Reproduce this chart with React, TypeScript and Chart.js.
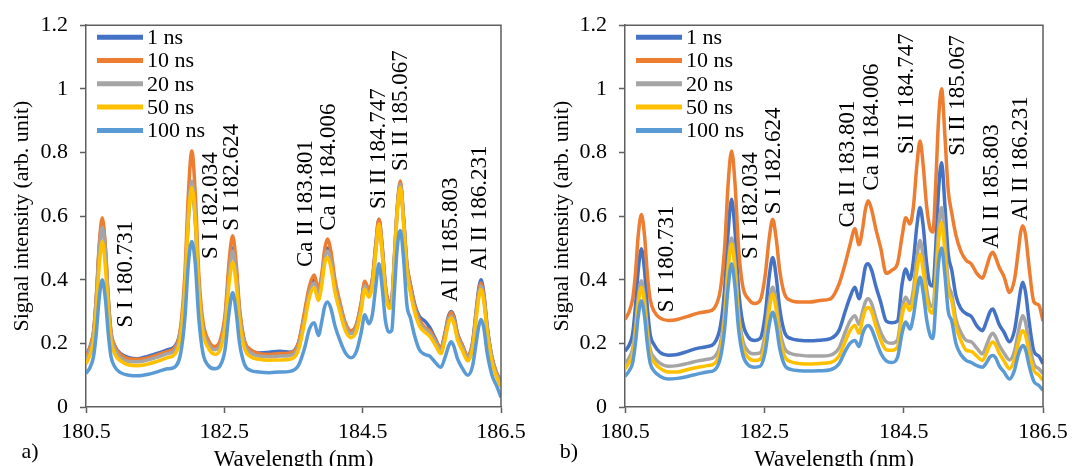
import React, { useEffect, useRef } from 'react';
import { Chart, registerables } from 'chart.js';

Chart.register(...registerables);

const FONT = "'Liberation Serif', 'Times New Roman', serif";

// Wavelength grid (nm), shared by both panels
const WAVELENGTH = [
  180.50, 180.56, 180.61, 180.65, 180.69, 180.735, 180.78, 180.82, 180.86, 180.92,
  181.00, 181.12, 181.25, 181.40, 181.55, 181.68, 181.78, 181.87, 181.93, 181.98,
  182.03, 182.08, 182.13, 182.19, 182.27, 182.36, 182.44, 182.51, 182.57, 182.62,
  182.67, 182.72, 182.79, 182.88, 183.00, 183.15, 183.30, 183.45, 183.57, 183.66,
  183.73, 183.80, 183.86, 183.91, 183.95, 183.99, 184.04, 184.10, 184.17, 184.25,
  184.33, 184.41, 184.48, 184.53, 184.59, 184.64, 184.69, 184.735, 184.78, 184.83,
  184.88, 184.92, 184.96, 185.00, 185.045, 185.09, 185.14, 185.19, 185.25, 185.32,
  185.40, 185.47, 185.55, 185.63, 185.69, 185.74, 185.78, 185.82, 185.87, 185.94,
  186.02, 186.09, 186.14, 186.18, 186.21, 186.25, 186.30, 186.37, 186.44, 186.50,
];

const SERIES_NAMES = ['1 ns', '10 ns', '20 ns', '50 ns', '100 ns'];
const SERIES_COLORS = ['#4472C4', '#ED7D31', '#A5A5A5', '#FFC000', '#5B9BD5'];

// Panel a)
const A_1NS = [
  0.16, 0.19, 0.235, 0.345, 0.495, 0.58, 0.495, 0.345, 0.235, 0.19,
  0.168, 0.155, 0.152, 0.16, 0.17, 0.18, 0.19, 0.245, 0.38, 0.59,
  0.70, 0.585, 0.38, 0.25, 0.2, 0.185, 0.2, 0.275, 0.43, 0.50,
  0.43, 0.30, 0.205, 0.178, 0.17, 0.172, 0.175, 0.172, 0.2, 0.29,
  0.37, 0.40, 0.36, 0.41, 0.475, 0.50, 0.47, 0.385, 0.32, 0.26,
  0.238, 0.258, 0.325, 0.39, 0.365, 0.40, 0.51, 0.59, 0.51, 0.375,
  0.328, 0.335, 0.47, 0.62, 0.70, 0.595, 0.445, 0.385, 0.325, 0.285,
  0.27, 0.25, 0.215, 0.185, 0.232, 0.285, 0.30, 0.285, 0.232, 0.195,
  0.16, 0.205, 0.30, 0.375, 0.40, 0.36, 0.255, 0.155, 0.105, 0.082,
];
const A_10NS = [
  0.155, 0.19, 0.24, 0.35, 0.505, 0.595, 0.505, 0.35, 0.24, 0.19,
  0.165, 0.152, 0.15, 0.155, 0.165, 0.175, 0.185, 0.255, 0.42, 0.67,
  0.805, 0.67, 0.42, 0.27, 0.21, 0.19, 0.21, 0.29, 0.46, 0.538,
  0.455, 0.31, 0.21, 0.18, 0.168, 0.165, 0.168, 0.17, 0.2, 0.30,
  0.38, 0.415, 0.37, 0.42, 0.495, 0.528, 0.49, 0.40, 0.33, 0.265,
  0.24, 0.26, 0.33, 0.395, 0.37, 0.40, 0.51, 0.59, 0.51, 0.38,
  0.33, 0.34, 0.48, 0.63, 0.71, 0.60, 0.45, 0.385, 0.32, 0.275,
  0.25, 0.24, 0.21, 0.185, 0.23, 0.28, 0.298, 0.28, 0.23, 0.195,
  0.16, 0.2, 0.295, 0.366, 0.39, 0.354, 0.25, 0.155, 0.105, 0.08,
];
const A_20NS = [
  0.148, 0.18, 0.228, 0.335, 0.485, 0.565, 0.485, 0.335, 0.228, 0.18,
  0.155, 0.143, 0.142, 0.148, 0.158, 0.168, 0.178, 0.24, 0.385, 0.61,
  0.71, 0.61, 0.385, 0.25, 0.198, 0.18, 0.195, 0.27, 0.42, 0.49,
  0.42, 0.29, 0.198, 0.17, 0.16, 0.158, 0.16, 0.162, 0.19, 0.28,
  0.36, 0.39, 0.355, 0.40, 0.465, 0.49, 0.46, 0.375, 0.315, 0.255,
  0.23, 0.25, 0.315, 0.38, 0.355, 0.385, 0.49, 0.57, 0.49, 0.365,
  0.318, 0.33, 0.47, 0.62, 0.70, 0.59, 0.435, 0.37, 0.31, 0.265,
  0.245, 0.232, 0.205, 0.178, 0.22, 0.27, 0.285, 0.27, 0.222, 0.188,
  0.155, 0.195, 0.285, 0.355, 0.38, 0.345, 0.245, 0.15, 0.1, 0.076,
];
const A_50NS = [
  0.135, 0.165, 0.21, 0.31, 0.44, 0.52, 0.44, 0.31, 0.21, 0.165,
  0.145, 0.132, 0.13, 0.135, 0.145, 0.155, 0.165, 0.225, 0.37, 0.59,
  0.69, 0.59, 0.37, 0.235, 0.185, 0.166, 0.18, 0.25, 0.39, 0.455,
  0.39, 0.27, 0.185, 0.158, 0.15, 0.147, 0.148, 0.15, 0.178, 0.265,
  0.345, 0.375, 0.335, 0.385, 0.45, 0.47, 0.44, 0.36, 0.3, 0.24,
  0.218, 0.238, 0.305, 0.37, 0.345, 0.38, 0.49, 0.575, 0.49, 0.36,
  0.31, 0.32, 0.46, 0.61, 0.69, 0.58, 0.425, 0.36, 0.3, 0.255,
  0.235, 0.222, 0.195, 0.168, 0.21, 0.262, 0.28, 0.262, 0.212, 0.178,
  0.145, 0.185, 0.275, 0.345, 0.37, 0.335, 0.235, 0.14, 0.092, 0.063,
];
const A_100NS = [
  0.105, 0.125, 0.16, 0.235, 0.34, 0.40, 0.34, 0.235, 0.16, 0.125,
  0.108, 0.1, 0.098, 0.103, 0.112, 0.12, 0.125, 0.17, 0.28, 0.45,
  0.52, 0.45, 0.28, 0.17, 0.13, 0.12, 0.13, 0.18, 0.3, 0.36,
  0.3, 0.2, 0.135, 0.115, 0.11, 0.108, 0.11, 0.112, 0.13, 0.185,
  0.245, 0.265, 0.225, 0.27, 0.315, 0.33, 0.31, 0.255, 0.21, 0.17,
  0.155, 0.175, 0.235, 0.29, 0.262, 0.29, 0.38, 0.45, 0.38, 0.27,
  0.235, 0.24, 0.37, 0.5, 0.555, 0.47, 0.32, 0.28, 0.225, 0.18,
  0.165, 0.16, 0.14, 0.125, 0.155, 0.19, 0.205, 0.19, 0.152, 0.122,
  0.1, 0.13, 0.2, 0.255, 0.275, 0.25, 0.17, 0.1, 0.065, 0.03,
];

// Panel b)
const B_1NS = [
  0.175, 0.195, 0.23, 0.315, 0.43, 0.497, 0.43, 0.315, 0.23, 0.195,
  0.172, 0.163, 0.165, 0.175, 0.185, 0.19, 0.2, 0.255, 0.37, 0.55,
  0.653, 0.55, 0.37, 0.265, 0.22, 0.209, 0.215, 0.285, 0.41, 0.47,
  0.41, 0.31, 0.235, 0.215, 0.21, 0.208, 0.21, 0.215, 0.24, 0.30,
  0.345, 0.376, 0.34, 0.39, 0.44, 0.45, 0.43, 0.38, 0.33, 0.27,
  0.265, 0.27, 0.39, 0.434, 0.40, 0.46, 0.57, 0.627, 0.57, 0.45,
  0.385, 0.38, 0.5, 0.68, 0.768, 0.64, 0.48, 0.43, 0.35, 0.31,
  0.293, 0.285, 0.255, 0.24, 0.27, 0.30, 0.308, 0.29, 0.26, 0.235,
  0.205, 0.24, 0.31, 0.37, 0.392, 0.36, 0.27, 0.175, 0.16, 0.136,
];
const B_10NS = [
  0.275, 0.3, 0.34, 0.42, 0.54, 0.605, 0.54, 0.42, 0.34, 0.3,
  0.28, 0.272, 0.275, 0.285, 0.295, 0.30, 0.31, 0.37, 0.50, 0.70,
  0.805, 0.70, 0.50, 0.38, 0.34, 0.325, 0.335, 0.41, 0.53, 0.59,
  0.53, 0.43, 0.355, 0.335, 0.33, 0.33, 0.335, 0.34, 0.385, 0.45,
  0.51, 0.56, 0.51, 0.56, 0.62, 0.648, 0.62, 0.56, 0.50, 0.42,
  0.43, 0.45, 0.54, 0.595, 0.575, 0.63, 0.76, 0.836, 0.76, 0.63,
  0.56, 0.55, 0.70, 0.90, 1.0, 0.86, 0.68, 0.61, 0.54, 0.49,
  0.46, 0.45, 0.42, 0.405, 0.44, 0.475, 0.486, 0.47, 0.44, 0.41,
  0.36, 0.40, 0.48, 0.55, 0.57, 0.54, 0.44, 0.33, 0.32, 0.27,
];
const B_20NS = [
  0.138, 0.155, 0.183, 0.25, 0.344, 0.397, 0.344, 0.25, 0.183, 0.155,
  0.138, 0.128, 0.13, 0.137, 0.145, 0.15, 0.157, 0.2, 0.3, 0.45,
  0.531, 0.45, 0.3, 0.21, 0.175, 0.167, 0.17, 0.228, 0.33, 0.376,
  0.33, 0.245, 0.185, 0.168, 0.163, 0.16, 0.16, 0.163, 0.185, 0.235,
  0.27, 0.287, 0.26, 0.3, 0.33, 0.34, 0.325, 0.28, 0.235, 0.205,
  0.2, 0.21, 0.31, 0.345, 0.324, 0.37, 0.47, 0.523, 0.47, 0.37,
  0.32, 0.315, 0.42, 0.56, 0.627, 0.53, 0.39, 0.355, 0.275, 0.235,
  0.209, 0.205, 0.185, 0.167, 0.195, 0.222, 0.232, 0.22, 0.195, 0.17,
  0.148, 0.175, 0.23, 0.27, 0.287, 0.265, 0.2, 0.135, 0.12, 0.105,
];
const B_50NS = [
  0.12, 0.14, 0.167, 0.232, 0.323, 0.376, 0.323, 0.232, 0.167, 0.14,
  0.122, 0.11, 0.11, 0.118, 0.125, 0.13, 0.136, 0.18, 0.28, 0.43,
  0.512, 0.43, 0.28, 0.19, 0.155, 0.146, 0.15, 0.2, 0.305, 0.355,
  0.305, 0.22, 0.16, 0.142, 0.137, 0.135, 0.137, 0.14, 0.16, 0.205,
  0.24, 0.256, 0.232, 0.275, 0.305, 0.313, 0.3, 0.255, 0.21, 0.18,
  0.178, 0.188, 0.29, 0.324, 0.303, 0.34, 0.43, 0.48, 0.43, 0.34,
  0.3, 0.295, 0.39, 0.52, 0.58, 0.49, 0.365, 0.334, 0.255, 0.21,
  0.178, 0.175, 0.16, 0.146, 0.17, 0.195, 0.204, 0.195, 0.17, 0.145,
  0.12, 0.15, 0.195, 0.23, 0.24, 0.225, 0.17, 0.115, 0.1, 0.084,
];
const B_100NS = [
  0.096, 0.114, 0.139, 0.2, 0.285, 0.334, 0.285, 0.2, 0.139, 0.112,
  0.097, 0.088, 0.09, 0.096, 0.104, 0.11, 0.115, 0.155, 0.245, 0.375,
  0.45, 0.375, 0.245, 0.165, 0.132, 0.125, 0.128, 0.17, 0.258, 0.298,
  0.258, 0.185, 0.132, 0.118, 0.114, 0.113, 0.114, 0.117, 0.135, 0.175,
  0.2, 0.209, 0.19, 0.23, 0.25, 0.256, 0.245, 0.21, 0.17, 0.145,
  0.14, 0.155, 0.235, 0.267, 0.245, 0.285, 0.36, 0.408, 0.36, 0.275,
  0.225, 0.215, 0.32, 0.45, 0.5, 0.42, 0.3, 0.27, 0.2, 0.165,
  0.146, 0.14, 0.13, 0.125, 0.14, 0.158, 0.162, 0.155, 0.13, 0.11,
  0.088, 0.115, 0.16, 0.185, 0.193, 0.18, 0.13, 0.08, 0.068, 0.052,
];

const X_TICKS = [180.5, 182.5, 184.5, 186.5];
const Y_TICKS = [0, 0.2, 0.4, 0.6, 0.8, 1, 1.2];

// Emission line annotations: text, wavelength anchor, intensity anchor (text start)
const LINE_LABELS = [
  'S I 180.731', 'S I 182.034', 'S I 182.624', 'Ca II 183.801', 'Ca II 184.006',
  'Si II 184.747', 'Si II 185.067', 'Al II 185.803', 'Al II 186.231',
];
const A_LABEL_X = [181.08, 182.31, 182.61, 183.68, 184.01, 184.735, 185.06, 185.78, 186.2];
const A_LABEL_Y = [0.25, 0.465, 0.554, 0.44, 0.554, 0.622, 0.742, 0.33, 0.43];
const B_LABEL_X = [181.107, 182.306, 182.64, 183.7, 184.04, 184.54, 185.28, 185.77, 186.19];
const B_LABEL_Y = [0.298, 0.465, 0.606, 0.564, 0.68, 0.795, 0.79, 0.497, 0.585];

const AXIS_COLOR = '#5f5f5f';
const CANVAS_H = 474;

function buildChart(
  canvas: HTMLCanvasElement,
  series: number[][],
  labelX: number[],
  labelY: number[],
  letter: string,
  yWidth: number,
  padRight: number,
) {
  const datasets = series.map((vals, i) => ({
    label: SERIES_NAMES[i],
    data: vals.map((v, j) => ({ x: WAVELENGTH[j], y: v })),
    borderColor: SERIES_COLORS[i],
    backgroundColor: SERIES_COLORS[i],
    borderWidth: 3.5,
    pointRadius: 0,
    cubicInterpolationMode: 'monotone' as const,
    order: 10 - i,
  }));

  const decor = {
    id: 'decor',
    afterDraw(chart: any) {
      const { ctx, chartArea, scales } = chart;
      ctx.save();
      // top and right frame
      ctx.strokeStyle = AXIS_COLOR;
      ctx.lineWidth = 1.5;
      ctx.beginPath();
      ctx.moveTo(chartArea.left, chartArea.top);
      ctx.lineTo(chartArea.right, chartArea.top);
      ctx.lineTo(chartArea.right, chartArea.bottom);
      ctx.stroke();

      // legend
      ctx.font = `22px ${FONT}`;
      ctx.textBaseline = 'middle';
      ctx.textAlign = 'left';
      SERIES_NAMES.forEach((name, i) => {
        const y = chartArea.top + 12 + i * 23.3;
        const x0 = chartArea.left + 11;
        ctx.strokeStyle = SERIES_COLORS[i];
        ctx.lineWidth = 5;
        ctx.beginPath();
        ctx.moveTo(x0, y);
        ctx.lineTo(x0 + 46, y);
        ctx.stroke();
        ctx.fillStyle = '#000';
        ctx.fillText(name, x0 + 50, y + 1);
      });

      // line annotations
      ctx.font = `23px ${FONT}`;
      ctx.fillStyle = '#000';
      LINE_LABELS.forEach((t, i) => {
        const px = scales.x.getPixelForValue(labelX[i]);
        const py = scales.y.getPixelForValue(labelY[i]);
        ctx.save();
        ctx.translate(px, py);
        ctx.rotate(-Math.PI / 2);
        ctx.textAlign = 'left';
        ctx.textBaseline = 'middle';
        ctx.fillText(t, 0, 0);
        ctx.restore();
      });

      // panel letter
      ctx.font = `22px ${FONT}`;
      ctx.textAlign = 'center';
      ctx.textBaseline = 'middle';
      ctx.fillText(letter, chartArea.left - 56, 452);
      ctx.restore();
    },
  };

  return new Chart(canvas, {
    type: 'line',
    data: { datasets },
    options: {
      responsive: false,
      animation: false,
      devicePixelRatio: 1,
      layout: { padding: { left: 0, right: padRight, top: 23, bottom: 0 } },
      plugins: { legend: { display: false }, tooltip: { enabled: false } },
      scales: {
        x: {
          type: 'linear',
          min: 180.5,
          max: 186.5,
          afterBuildTicks: (scale: any) => {
            scale.ticks = X_TICKS.map((v) => ({ value: v }));
          },
          afterFit: (scale: any) => {
            scale.height = CANVAS_H - 407;
          },
          grid: {
            drawOnChartArea: false,
            drawTicks: true,
            tickLength: 6,
            tickColor: AXIS_COLOR,
            tickWidth: 1.5,
          },
          border: { display: true, color: AXIS_COLOR, width: 1.5 },
          ticks: {
            color: '#000',
            font: { family: FONT, size: 22 },
            padding: 6,
            maxRotation: 0,
            autoSkip: false,
            callback: (v: any) => Number(v).toFixed(1),
          },
          title: {
            display: true,
            text: 'Wavelength (nm)',
            color: '#000',
            font: { family: FONT, size: 23 },
            padding: { top: 0, bottom: 0 },
          },
        },
        y: {
          type: 'linear',
          min: 0,
          max: 1.2,
          afterBuildTicks: (scale: any) => {
            scale.ticks = Y_TICKS.map((v) => ({ value: v }));
          },
          afterFit: (scale: any) => {
            scale.width = yWidth;
          },
          grid: {
            drawOnChartArea: false,
            drawTicks: true,
            tickLength: 6,
            tickColor: AXIS_COLOR,
            tickWidth: 1.5,
          },
          border: { display: true, color: AXIS_COLOR, width: 1.5 },
          ticks: {
            color: '#000',
            font: { family: FONT, size: 22 },
            padding: 12,
            autoSkip: false,
            callback: (v: any) => String(Number(Number(v).toFixed(1))),
          },
          title: {
            display: true,
            text: 'Signal intensity (arb. unit)',
            color: '#000',
            font: { family: FONT, size: 22 },
            padding: { top: 9, bottom: 4 },
          },
        },
      },
    },
    plugins: [decor],
  } as any);
}

function Panel(props: {
  left: number;
  width: number;
  series: number[][];
  labelX: number[];
  labelY: number[];
  letter: string;
  yWidth: number;
  padRight: number;
}) {
  const ref = useRef<HTMLCanvasElement>(null);
  useEffect(() => {
    if (!ref.current) return;
    const chart = buildChart(
      ref.current,
      props.series,
      props.labelX,
      props.labelY,
      props.letter,
      props.yWidth,
      props.padRight,
    );
    return () => chart.destroy();
  }, []);
  return (
    <canvas
      ref={ref}
      width={props.width}
      height={CANVAS_H}
      style={{ position: 'absolute', left: props.left, top: 0 }}
    />
  );
}

export default function App() {
  return (
    <div
      style={{
        position: 'fixed',
        left: 0,
        top: 0,
        width: 1075,
        height: 466,
        overflow: 'hidden',
        background: '#fff',
      }}
    >
      <Panel
        left={0}
        width={540}
        series={[A_1NS, A_10NS, A_20NS, A_50NS, A_100NS]}
        labelX={A_LABEL_X}
        labelY={A_LABEL_Y}
        letter="a)"
        yWidth={86}
        padRight={39}
      />
      <Panel
        left={540}
        width={535}
        series={[B_1NS, B_10NS, B_20NS, B_50NS, B_100NS]}
        labelX={B_LABEL_X}
        labelY={B_LABEL_Y}
        letter="b)"
        yWidth={85}
        padRight={32}
      />
    </div>
  );
}
